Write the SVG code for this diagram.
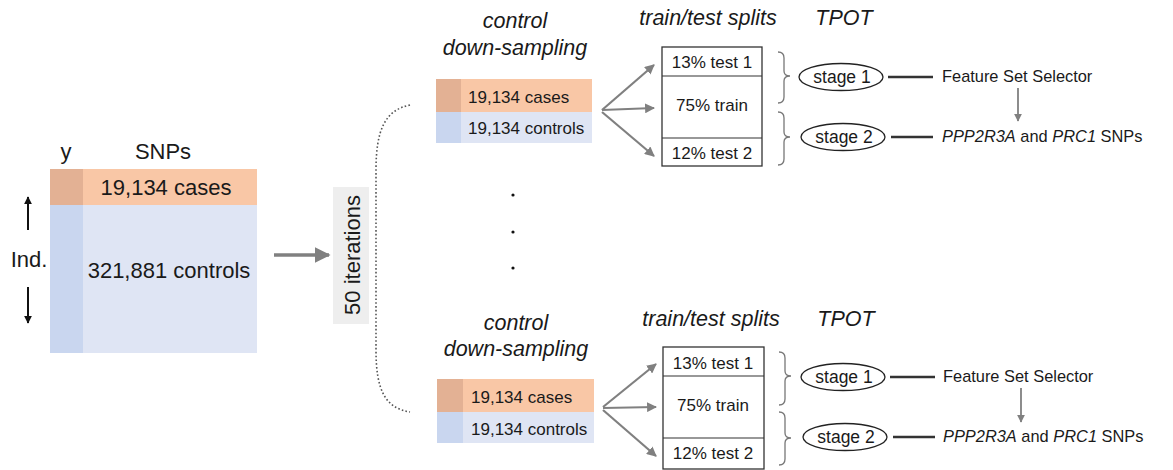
<svg xmlns="http://www.w3.org/2000/svg" width="1173" height="470" viewBox="0 0 1173 470">
<style>
  text { font-family: "Liberation Sans", Arial, sans-serif; fill: #1a1a1a; }
  .it { font-style: italic; }
  .title { font-size: 21.5px; font-style: italic; }
  .cell { font-size: 17px; }
  .big { font-size: 22px; }
  .lbl { font-size: 16.4px; }
  .stg { font-size: 17.5px; }
  .orange { fill: #f9c7a6; }
  .orangeD { fill: #e3b194; }
  .blue { fill: #dfe5f4; }
  .blueD { fill: #c9d6ef; }
  .box { fill: #ffffff; stroke: #333; stroke-width: 1.3; }
  .div { stroke: #333; stroke-width: 1.1; }
  .gray { stroke: #808080; stroke-width: 2.2; fill: none; }
  .brace { stroke: #777; stroke-width: 1.3; fill: none; }
  .ell { fill: #fff; stroke: #222; stroke-width: 1.3; }
  .conn { stroke: #333; stroke-width: 2.5; }
  .blk { stroke: #111; stroke-width: 2; }
</style>
<defs>
  <marker id="ag" viewBox="0 0 10 10" refX="9" refY="5" markerWidth="4.5" markerHeight="4.5" orient="auto" markerUnits="strokeWidth">
    <path d="M0,0 L10,5 L0,10 z" fill="#808080"/>
  </marker>
  <marker id="ab" viewBox="0 0 10 10" refX="9" refY="5" markerWidth="4" markerHeight="4" orient="auto" markerUnits="strokeWidth">
    <path d="M0,0 L10,5 L0,10 z" fill="#111"/>
  </marker>
</defs>
<rect width="1173" height="470" fill="#ffffff"/>

<g id="full-data">
  <text x="66" y="159" class="big" text-anchor="middle">y</text>
  <text x="163" y="159" class="big" text-anchor="middle">SNPs</text>
  <rect x="50" y="169" width="207" height="36" class="orange"/>
  <rect x="50" y="169" width="33" height="36" class="orangeD"/>
  <rect x="50" y="205" width="207" height="148" class="blue"/>
  <rect x="50" y="205" width="33" height="148" class="blueD"/>
  <text x="166" y="195" class="big" text-anchor="middle">19,134 cases</text>
  <text x="169" y="278" class="big" text-anchor="middle">321,881 controls</text>
  <text x="29" y="267" class="big" text-anchor="middle">Ind.</text>
  <line x1="28" y1="230" x2="28" y2="197" class="blk" marker-end="url(#ab)"/>
  <line x1="28" y1="287" x2="28" y2="323" class="blk" marker-end="url(#ab)"/>
</g>

<g id="iterations">
  <rect x="333" y="187" width="36" height="137" fill="#eeeeee"/>
  <text transform="translate(360,255) rotate(-90)" class="big" text-anchor="middle">50 iterations</text>
</g>

<g id="dots">
  <circle cx="513" cy="195" r="1.6" fill="#111"/>
  <circle cx="513" cy="232" r="1.6" fill="#111"/>
  <circle cx="513" cy="268" r="1.6" fill="#111"/>
</g>

<g id="downsample-top">
  <text x="515" y="28" class="title" text-anchor="middle">control</text>
  <text x="515" y="55" class="title" text-anchor="middle">down-sampling</text>
  <rect x="436" y="79" width="156" height="33" class="orange"/>
  <rect x="436" y="79" width="25" height="33" class="orangeD"/>
  <rect x="436" y="112" width="156" height="31" class="blue"/>
  <rect x="436" y="112" width="25" height="31" class="blueD"/>
  <text x="468" y="103" class="cell">19,134 cases</text>
  <text x="468" y="134" class="cell">19,134 controls</text>
</g>

<g id="splits-top">
  <text x="708" y="25" class="title" text-anchor="middle">train/test splits</text>
  <rect x="662" y="47" width="100" height="119" class="box"/>
  <line x1="662" y1="76" x2="762" y2="76" class="div"/>
  <line x1="662" y1="138" x2="762" y2="138" class="div"/>
  <text x="712" y="68" class="cell" text-anchor="middle">13% test 1</text>
  <text x="712" y="111" class="cell" text-anchor="middle">75% train</text>
  <text x="712" y="159" class="cell" text-anchor="middle">12% test 2</text>
</g>

<g id="tpot-top">
  <text x="844" y="25" class="title" text-anchor="middle">TPOT</text>
  <ellipse cx="841" cy="77" rx="42" ry="13.5" class="ell"/>
  <text x="842" y="83" class="stg" text-anchor="middle">stage 1</text>
  <ellipse cx="843" cy="137" rx="42" ry="13.5" class="ell"/>
  <text x="844" y="143" class="stg" text-anchor="middle">stage 2</text>
  <text x="942" y="82" class="lbl">Feature Set Selector</text>
  <text x="942" y="142" class="lbl"><tspan class="it">PPP2R3A</tspan> and <tspan class="it">PRC1</tspan> SNPs</text>
</g>

<g id="downsample-bottom">
  <text x="516" y="330" class="title" text-anchor="middle">control</text>
  <text x="516" y="356" class="title" text-anchor="middle">down-sampling</text>
  <rect x="437" y="379" width="157" height="33" class="orange"/>
  <rect x="437" y="379" width="26" height="33" class="orangeD"/>
  <rect x="437" y="412" width="157" height="31" class="blue"/>
  <rect x="437" y="412" width="26" height="31" class="blueD"/>
  <text x="471" y="403" class="cell">19,134 cases</text>
  <text x="471" y="435" class="cell">19,134 controls</text>
</g>

<g id="splits-bottom">
  <text x="711" y="326" class="title" text-anchor="middle">train/test splits</text>
  <rect x="663" y="347" width="101" height="122" class="box"/>
  <line x1="663" y1="376" x2="764" y2="376" class="div"/>
  <line x1="663" y1="438" x2="764" y2="438" class="div"/>
  <text x="713" y="369" class="cell" text-anchor="middle">13% test 1</text>
  <text x="713" y="411" class="cell" text-anchor="middle">75% train</text>
  <text x="713" y="459" class="cell" text-anchor="middle">12% test 2</text>
</g>

<g id="tpot-bottom">
  <text x="846" y="326" class="title" text-anchor="middle">TPOT</text>
  <ellipse cx="843" cy="377" rx="42" ry="13.5" class="ell"/>
  <text x="844" y="383" class="stg" text-anchor="middle">stage 1</text>
  <ellipse cx="845" cy="437" rx="42" ry="13.5" class="ell"/>
  <text x="846" y="443" class="stg" text-anchor="middle">stage 2</text>
  <text x="943" y="382" class="lbl">Feature Set Selector</text>
  <text x="943" y="442" class="lbl"><tspan class="it">PPP2R3A</tspan> and <tspan class="it">PRC1</tspan> SNPs</text>
</g>

<g id="connectors">
  <line x1="274" y1="255" x2="329" y2="255" stroke="#808080" stroke-width="3.5" marker-end="url(#ag)"/>
  <path d="M410,105 C385,110 376,130 376,170 L376,350 C376,390 385,408 410,412" fill="none" stroke="#555" stroke-width="1.6" stroke-dasharray="1.6 2.2"/>
  <line x1="602" y1="110" x2="654" y2="65" class="gray" marker-end="url(#ag)"/>
  <line x1="602" y1="110" x2="654" y2="108" class="gray" marker-end="url(#ag)"/>
  <line x1="602" y1="112" x2="654" y2="156" class="gray" marker-end="url(#ag)"/>
  <line x1="603" y1="407" x2="656" y2="364" class="gray" marker-end="url(#ag)"/>
  <line x1="603" y1="408" x2="656" y2="407" class="gray" marker-end="url(#ag)"/>
  <line x1="603" y1="410" x2="656" y2="456" class="gray" marker-end="url(#ag)"/>
  <path d="M778,52 Q784,52 784,58 L784,71 Q784,76 790,76 Q784,76 784,81 L784,97 Q784,103 778,103" class="brace"/>
  <path d="M778,112 Q784,112 784,118 L784,132 Q784,137 790,137 Q784,137 784,142 L784,159 Q784,165 778,165" class="brace"/>
  <path d="M779,352 Q785,352 785,358 L785,371 Q785,376 791,376 Q785,376 785,381 L785,399 Q785,405 779,405" class="brace"/>
  <path d="M779,412 Q785,412 785,418 L785,433 Q785,438 791,438 Q785,438 785,443 L785,459 Q785,465 779,465" class="brace"/>
  <line x1="888" y1="77" x2="933" y2="77" class="conn"/>
  <line x1="891" y1="137" x2="933" y2="137" class="conn"/>
  <line x1="890" y1="377" x2="935" y2="377" class="conn"/>
  <line x1="893" y1="437" x2="935" y2="437" class="conn"/>
  <line x1="1018" y1="88" x2="1018" y2="121" stroke="#808080" stroke-width="1.8" marker-end="url(#ag)"/>
  <line x1="1021" y1="388" x2="1021" y2="422" stroke="#808080" stroke-width="1.8" marker-end="url(#ag)"/>
</g>
</svg>
